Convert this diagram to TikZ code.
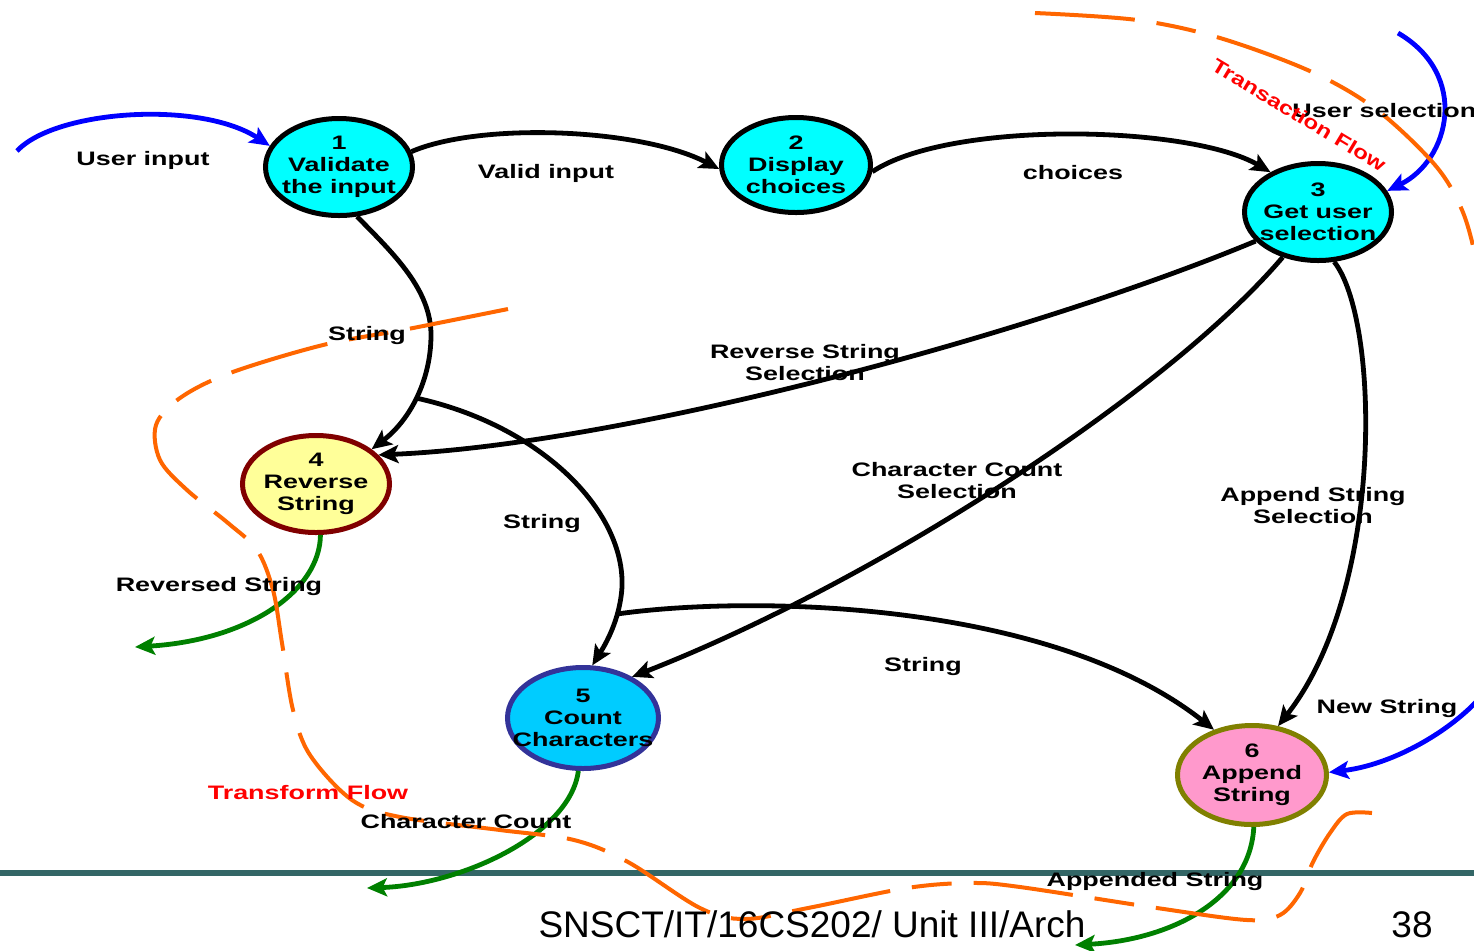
\documentclass[tikz,border=0pt]{standalone}
\usepackage{fontspec}
\newfontfamily\lbl[FakeStretch=1.38]{Liberation Sans}
\newfontfamily\lblt[FakeStretch=1.25]{Liberation Sans}
\newfontfamily\foot{Liberation Sans}
\usetikzlibrary{shapes.geometric,arrows.meta}
\definecolor{cyanf}{HTML}{00FFFF}
\definecolor{skyf}{HTML}{00CCFF}
\definecolor{skyd}{HTML}{333399}
\definecolor{yelf}{HTML}{FFFF99}
\definecolor{yeld}{HTML}{800000}
\definecolor{pinkf}{HTML}{FF99CC}
\definecolor{pinkd}{HTML}{808000}
\definecolor{orangeln}{HTML}{FF6600}
\definecolor{tealln}{HTML}{336666}
\definecolor{greenc}{HTML}{008000}
\begin{document}
\begin{tikzpicture}[x=0.5pt,y=-0.5pt,
  proc/.style={ellipse, draw, line width=2.5pt, inner sep=0pt, minimum width=73.5pt, minimum height=48.5pt},
  lab/.style={font=\lbl\bfseries\fontsize{9.75}{10.9}\selectfont, align=center, inner sep=0pt},
  conn/.style={line width=2.4pt, -{Stealth[length=10pt,width=9pt,inset=2.2pt]}},
  blueln/.style={conn, draw=blue, -{Stealth[length=10pt,width=9pt,inset=2.2pt,fill=blue]}},
  greenln/.style={conn, draw=greenc, -{Stealth[length=10pt,width=9pt,inset=2.2pt,fill=greenc]}},
  flow/.style={draw=orangeln, line width=2pt, dash pattern=on 50pt off 11pt on 20pt off 11pt},
  redlab/.style={text=red, inner sep=0pt}
]
\useasboundingbox (0,0) rectangle (1474,950);
% footer rule
\coordinate (rl) at (0,873);
\coordinate (rr) at (1474,873);
\draw[tealln, line width=3pt] (rl) -- (rr);

% processes
\node[proc, fill=cyanf, label={[lab]center:{1\\Validate\\the input}}] (n1) at (339,167) {};
\node[proc, fill=cyanf, minimum width=74.5pt, minimum height=47.5pt, label={[lab]center:{2\\Display\\choices}}] (n2) at (796,165) {};
\node[proc, fill=cyanf, label={[lab]center:{3\\Get user\\selection}}] (n3) at (1318,212) {};
\node[proc, fill=yelf, draw=yeld, label={[lab]center:{4\\Reverse\\String}}] (n4) at (316,484) {};
\node[proc, fill=skyf, draw=skyd, minimum width=75.5pt, minimum height=50.5pt, label={[lab]center:{5\\Count\\Characters}}] (n5) at (583,718) {};
\node[proc, fill=pinkf, draw=pinkd, minimum width=74.5pt, minimum height=49.5pt, label={[lab]center:{6\\Append\\String}}] (n6) at (1252,775) {};

% free ends
\coordinate (ui) at (17,151);
\coordinate (us) at (1398,33);
\coordinate (ns) at (1478,700);
\coordinate (ro) at (135,647);
\coordinate (co) at (367,888);
\coordinate (ao) at (1075,945);
\coordinate (j1) at (416,398);
\coordinate (j2) at (617,614);

% black flows
\draw[conn] (n1.12) .. controls (480,122) and (640,128) .. (n2.183);
\draw[conn] (n2.-5) .. controls (950,120) and (1190,125) .. (n3.140);
\draw[conn] (n1.-70) .. controls (395,255) and (431,290) .. (431,335) .. controls (431,380) and (410,420) .. (n4.32);
\draw[conn] (j1) .. controls (540,425) and (625,510) .. (622,587) .. controls (620,620) and (605,645) .. (n5.80);
\draw[conn] (j2) .. controls (750,595) and (1050,600) .. (n6.130);
\draw[conn] (n3.205) .. controls (1030,335) and (620,445) .. (n4.25);
\draw[conn] (n3.232) .. controls (1170,390) and (880,580) .. (n5.40);
\draw[conn] (n3.-72) .. controls (1380,320) and (1385,590) .. (n6.62);

% blue inputs
\draw[blueln] (ui) .. controls (55,110) and (200,100) .. (n1.163);
\draw[blueln] (us) .. controls (1470,75) and (1450,160) .. (n3.17);
\draw[blueln] (ns) .. controls (1445,735) and (1390,765) .. (n6.2);

% green outputs
\draw[greenln] (n4.-85) .. controls (320,590) and (250,640) .. (ro);
\draw[greenln] (n5.-95) .. controls (570,835) and (460,885) .. (co);
\draw[greenln] (n6.-88) .. controls (1250,900) and (1170,940) .. (ao);

% orange dashed boundaries
\draw[flow] plot[smooth, tension=0.55] coordinates {(508,309) (408,329) (323,345) (230,373) (180,398) (156,425) (160,460) (187,490) (228,523) (257,550) (273,590) (282,643) (293,710) (310,755) (352,800) (400,817) (500,830) (574,840) (628,862) (700,908) (745,919) (808,908) (907,888) (970,883) (1020,887) (1157,908) (1247,920) (1280,915) (1300,893) (1313,862) (1330,833) (1347,814) (1372,813)};
\draw[flow] plot[smooth, tension=0.55] coordinates {(1035,13) (1137,20) (1220,38) (1312,72) (1377,110) (1435,165) (1462,210) (1476,260) (1482,310)};

% flow labels
\node[lab, anchor=base] (l1) at (143,165) {User input};
\node[lab, anchor=base] (l2) at (546,178) {Valid input};
\node[lab, anchor=base] (l3) at (1073,179) {choices};
\node[lab, anchor=base west] (l4) at (1292,117) {User selection};
\node[lab, anchor=base] (l5) at (367,340) {String};
\node[lab, anchor=base] (l6) at (805,380) {Reverse String\\Selection};
\node[lab, anchor=base] (l7) at (957,498) {Character Count\\Selection};
\node[lab, anchor=base] (l8) at (1313,523) {Append String\\Selection};
\node[lab, anchor=base] (l9) at (542,528) {String};
\node[lab, anchor=base] (l10) at (219,591) {Reversed String};
\node[lab, anchor=base] (l11) at (923,671) {String};
\node[lab, anchor=base] (l12) at (1387,713) {New String};
\node[lab, anchor=base] (l13) at (466,828) {Character Count};
\node[lab, anchor=base] (l14) at (1155,886) {Appended String};
\node[lab, redlab, anchor=base] (tf) at (308,799) {Transform Flow};
\node[lab, redlab, font=\lblt\bfseries\fontsize{9.75}{10.9}\selectfont, rotate=-31] (tr) at (1299,115) {Transaction Flow};

% footer
\node[font=\foot\fontsize{18.5}{20}\selectfont, inner sep=0pt, anchor=base] (ft) at (812,937) {SNSCT/IT/16CS202/ Unit III/Arch};
\node[font=\foot\fontsize{18.5}{20}\selectfont, inner sep=0pt, anchor=base] (pg) at (1412,937) {38};
\end{tikzpicture}
\end{document}
